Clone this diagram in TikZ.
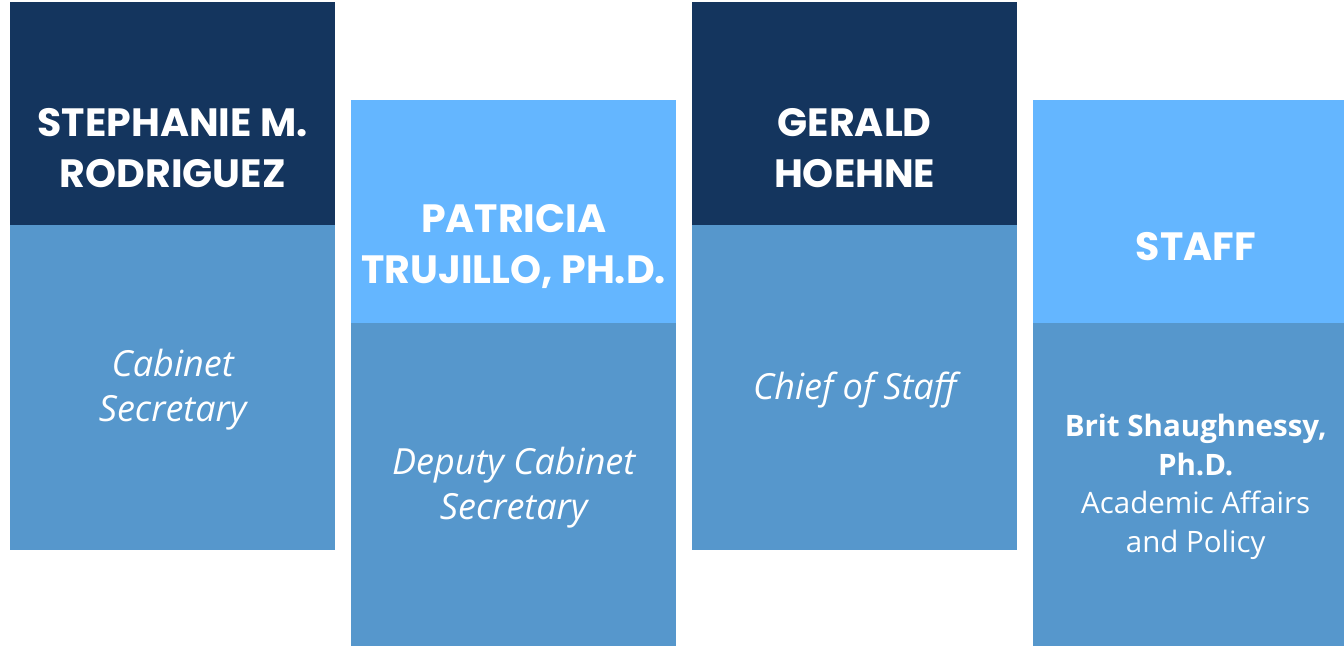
\documentclass[tikz,border=0pt]{standalone}
\usepackage{fontspec}
\newfontfamily\headfont{Poppins}
\newfontfamily\bodyfont{Open Sans}
\definecolor{navy}{HTML}{14355E}
\definecolor{sky}{HTML}{64B6FF}
\definecolor{mid}{HTML}{5697CC}
\begin{document}
\begin{tikzpicture}[x=1pt,y=-1pt,
  box/.style={draw=none,inner sep=0pt,minimum width=325pt,anchor=north west},
  headbox/.style={box,minimum height=223pt},
  bodybox/.style={box,minimum height=325pt},
  headtext/.style={text=white,align=center,font=\headfont\bfseries\fontsize{39.5}{51}\selectfont},
  bodytext/.style={text=white,align=center,font=\bodyfont\itshape\fontsize{36}{45}\selectfont},
  stafftext/.style={text=white,align=center,font=\bodyfont\fontsize{29.5}{38.5}\selectfont}]
\clip (0,0) rectangle (1344,646);
\fill[white] (0,0) rectangle (1344,646);
% column 1
\node[headbox,fill=navy] (h1) at (10,2) {};
\node[bodybox,fill=mid,minimum height=325pt] (b1) at (10,225) {};
% column 2
\node[headbox,fill=sky] (h2) at (351,100) {};
\node[bodybox,fill=mid,minimum height=323pt] (b2) at (351,323) {};
% column 3
\node[headbox,fill=navy] (h3) at (692,2) {};
\node[bodybox,fill=mid,minimum height=325pt] (b3) at (692,225) {};
% column 4
\node[headbox,fill=sky] (h4) at (1033,100) {};
\node[bodybox,fill=mid,minimum height=323pt] (b4) at (1033,323) {};
% texts
\node[headtext] (th1) at ([yshift=-34.5pt]h1.center) {STEPHANIE M.\\RODRIGUEZ};
\node[headtext] (th2) at ([yshift=-34.5pt]h2.center) {PATRICIA\\TRUJILLO, PH.D.};
\node[headtext] (th3) at ([yshift=-34.5pt]h3.center) {GERALD\\HOEHNE};
\node[headtext] (th4) at ([yshift=-34.5pt]h4.center) {STAFF};
\node[bodytext] (tb1) at ([yshift=-2pt]b1.center) {Cabinet\\Secretary};
\node[bodytext] (tb2) at ([yshift=-3pt]b2.center) {Deputy Cabinet\\Secretary};
\node[bodytext] (tb3) at ([yshift=-2pt]b3.center) {Chief of Staff};
\node[stafftext] (tb4) at ([yshift=-2pt]b4.center) {\bfseries Brit Shaughnessy,\\\bfseries Ph.D.\\Academic Affairs\\and Policy};
\end{tikzpicture}
\end{document}
